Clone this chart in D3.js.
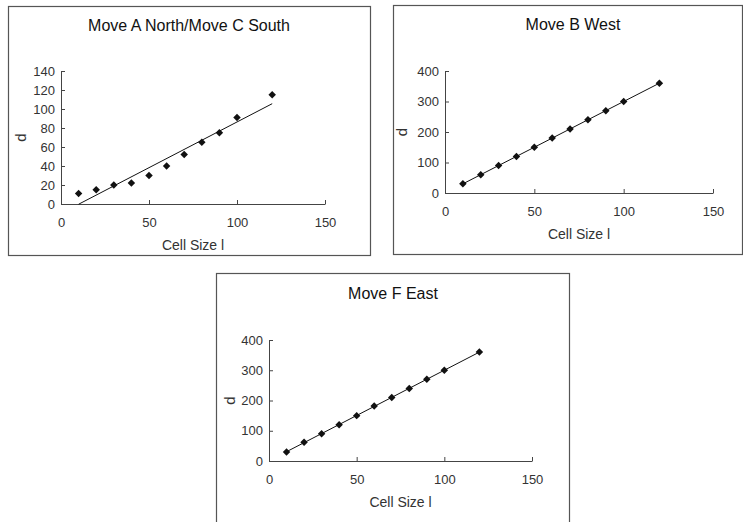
<!DOCTYPE html>
<html>
<head>
<meta charset="utf-8">
<script src="https://cdn.jsdelivr.net/npm/d3@7"></script>
<style>
    body { margin: 0; background: #fff; }
    svg { display: block; font-family: "Liberation Sans", Arial, sans-serif; }
</style>
</head>
<body>
<svg id="svgMoves" width="743" height="522"></svg>
<script>
// data
const cellSize = [10, 20, 30, 40, 50, 60, 70, 80, 90, 100, 120];
const dNorthSouth = [11, 15, 20, 22, 30, 40, 52, 65, 75, 91, 115];
const dWest = [30, 60, 90, 120, 150, 180, 210, 240, 270, 300, 360];
const dEast = [30, 62, 90, 120, 150, 182, 210, 240, 270, 300, 360];

const chartTitles = ['Move A North/Move C South', 'Move B West', 'Move F East'];
const xTicks = [0, 50, 100, 150];
const yTicksNorthSouth = [0, 20, 40, 60, 80, 100, 120, 140];
const yTicksWestEast = [0, 100, 200, 300, 400];

// layout of each panel (pixels)
const panels = [
    {box: [8, 6, 370, 255], plot: [61, 71, 325, 204], titleX: 189, titleY: 27,
        values: dNorthSouth, yTicks: yTicksNorthSouth, labelX: 22},
    {box: [393, 5, 742, 254], plot: [445, 71, 713, 193], titleX: 573, titleY: 26,
        values: dWest, yTicks: yTicksWestEast, labelX: 403},
    {box: [216, 273, 569, 530], plot: [269, 340, 532, 461], titleX: 393, titleY: 295,
        values: dEast, yTicks: yTicksWestEast, labelX: 231}
];

const svg = d3.select('#svgMoves');

panels.forEach((p, i) => drawPanel(p, chartTitles[i]));

function linearFit(xs, ys) {
    const mx = d3.mean(xs), my = d3.mean(ys);
    let sxy = 0, sxx = 0;
    xs.forEach((x, i) => {
        sxy += (x - mx) * (ys[i] - my);
        sxx += (x - mx) * (x - mx);
    });
    const slope = sxy / sxx;
    return {slope: slope, intercept: my - slope * mx};
}

function drawPanel(p, title) {
    const [bx0, by0, bx1, by1] = p.box;
    const [px0, py0, px1, py1] = p.plot;

    const g = svg.append('g');

    g.append('rect')
        .attr('x', bx0 + 0.5)
        .attr('y', by0 + 0.5)
        .attr('width', bx1 - bx0)
        .attr('height', by1 - by0)
        .style('fill', 'white')
        .style('stroke', '#555')
        .style('stroke-width', 1.2);

    const xScale = d3.scaleLinear()
        .domain([xTicks[0], xTicks[xTicks.length - 1]])
        .range([px0, px1]);

    const yScale = d3.scaleLinear()
        .domain([p.yTicks[0], p.yTicks[p.yTicks.length - 1]])
        .range([py1, py0]);

    const xAxisGroup = g.append('g')
        .attr('transform', `translate(0, ${py1})`)
        .call(d3.axisBottom(xScale)
            .tickValues(xTicks)
            .tickSizeInner(-4)
            .tickSizeOuter(0)
            .tickPadding(14));

    const yAxisGroup = g.append('g')
        .attr('transform', `translate(${px0}, 0)`)
        .call(d3.axisLeft(yScale)
            .tickValues(p.yTicks)
            .tickSizeInner(-4)
            .tickSizeOuter(0)
            .tickPadding(6));

    [xAxisGroup, yAxisGroup].forEach(ax => {
        ax.select('.domain').style('stroke', '#444');
        ax.selectAll('.tick line').style('stroke', '#444');
        ax.selectAll('text')
            .style('font-size', '13px')
            .style('fill', '#333');
        ax.attr('font-family', null).attr('font-size', null);
    });

    // trend line
    const fit = linearFit(cellSize, p.values);
    const xMin = d3.min(cellSize), xMax = d3.max(cellSize);
    g.append('line')
        .attr('x1', xScale(xMin))
        .attr('y1', yScale(fit.intercept + fit.slope * xMin))
        .attr('x2', xScale(xMax))
        .attr('y2', yScale(fit.intercept + fit.slope * xMax))
        .style('stroke', '#111')
        .style('stroke-width', 1);

    // markers
    const diamond = d3.symbol().type(d3.symbolSquare).size(28);
    g.selectAll('.marker')
        .data(cellSize.map((c, i) => ({x: c, y: p.values[i]})))
        .join('path')
        .classed('marker', true)
        .attr('d', diamond)
        .attr('transform', d => `translate(${xScale(d.x)}, ${yScale(d.y)}) rotate(45)`)
        .style('fill', '#111');

    g.append('text')
        .attr('x', p.titleX)
        .attr('y', p.titleY)
        .style('font-size', '16px')
        .style('fill', '#111')
        .style('text-anchor', 'middle')
        .style('dominant-baseline', 'middle')
        .text(title);

    g.append('text')
        .attr('x', (px0 + px1) / 2)
        .attr('y', py1 + 42)
        .style('font-size', '14px')
        .style('fill', '#333')
        .style('text-anchor', 'middle')
        .style('dominant-baseline', 'middle')
        .text('Cell Size l');

    g.append('text')
        .attr('transform', `translate(${p.labelX}, ${(py0 + py1) / 2}) rotate(-90)`)
        .style('font-size', '15px')
        .style('fill', '#333')
        .style('text-anchor', 'middle')
        .style('dominant-baseline', 'middle')
        .text('d');
}
</script>
</body>
</html>
